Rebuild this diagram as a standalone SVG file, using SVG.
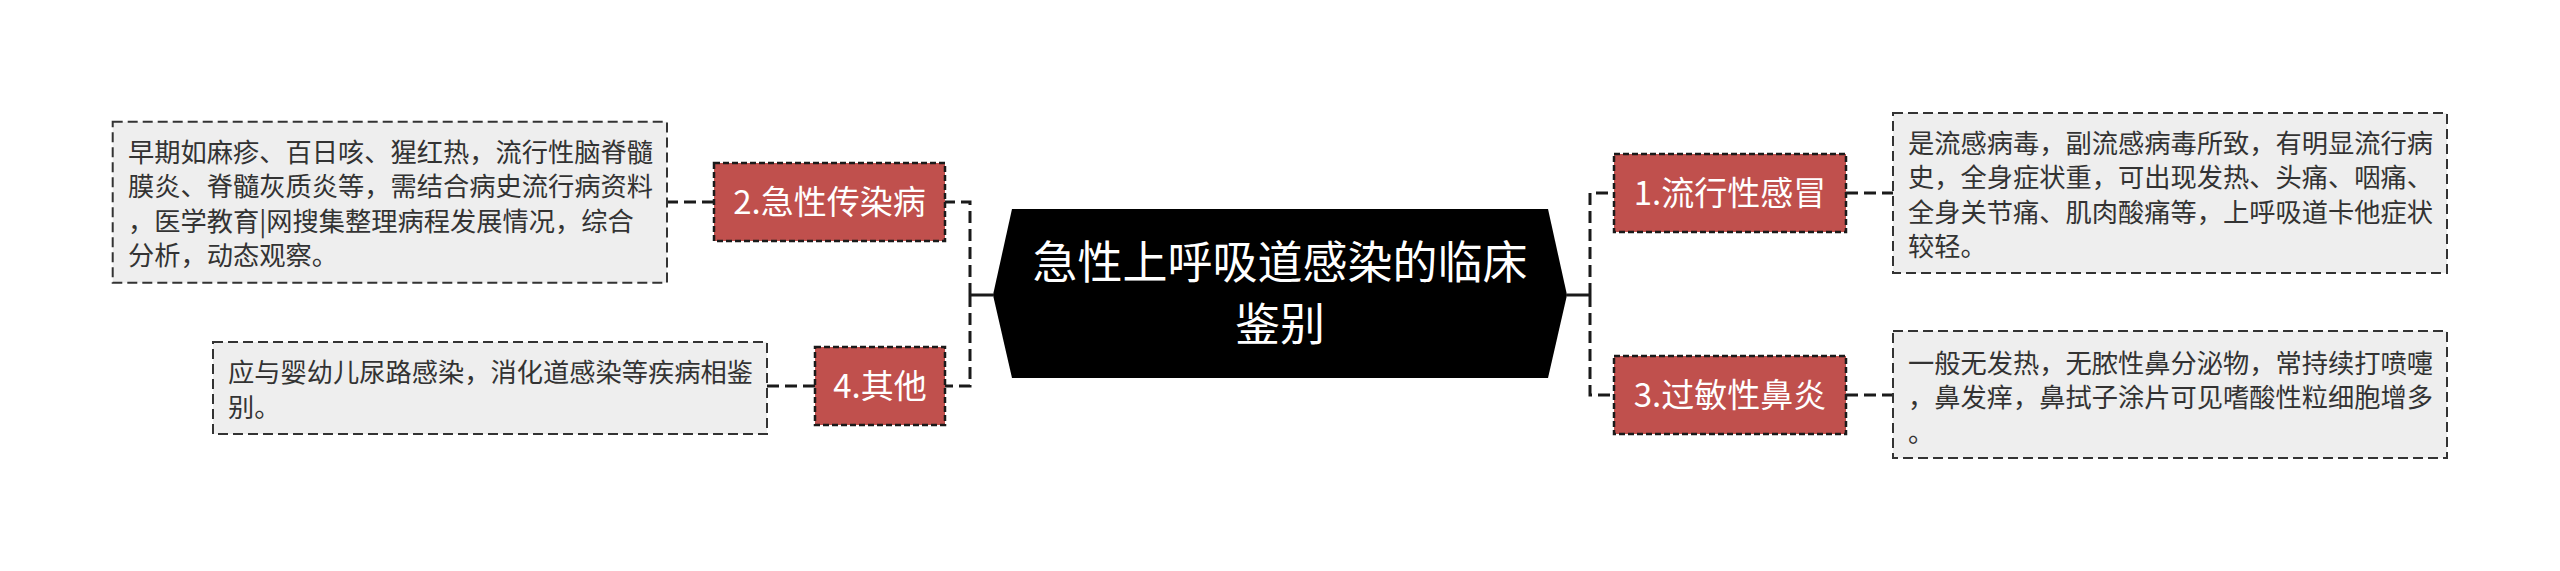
<svg xmlns="http://www.w3.org/2000/svg" width="2560" height="571" viewBox="0 0 2560 571">
<style>
.bg{fill:#ffffff}
.conn{fill:none;stroke:#1a1a1a;stroke-width:3;stroke-dasharray:12 6}
.stub{fill:none;stroke:#1a1a1a;stroke-width:3}
.center{fill:#000000}
.ctext{font-family:"Noto Sans CJK SC","Noto Sans",sans-serif;font-size:45px;fill:#ffffff;text-anchor:middle}
.node{fill:#c0504d;stroke:#1a1a1a;stroke-width:2.5;stroke-dasharray:6 3}
.ntext{font-family:"Noto Sans CJK SC","Noto Sans",sans-serif;font-size:33px;fill:#ffffff;text-anchor:middle}
.box{fill:#eeeeee;stroke:#333333;stroke-width:2;stroke-dasharray:10 5}
.btext{font-family:"Noto Sans CJK SC","Noto Sans",sans-serif;font-size:26.25px;fill:#333333}
</style>
<rect class="bg" x="0" y="0" width="2560" height="571"/>
<g id="connectors">
  <path class="stub" d="M993,295 H970"/>
  <path class="stub" d="M1567,295 H1590"/>
  <path class="conn" d="M970,295 V202 H945"/>
  <path class="conn" d="M970,295 V386 H945"/>
  <path class="conn" d="M1590,295 V193 H1614"/>
  <path class="conn" d="M1590,295 V395 H1614"/>
  <path class="conn" d="M714,202 H667"/>
  <path class="conn" d="M815,386 H767"/>
  <path class="conn" d="M1846,193 H1893"/>
  <path class="conn" d="M1846,395 H1893"/>
</g>
<g id="center-node">
  <polygon class="center" points="993,295 1012,209 1548,209 1567,295 1548,378 1012,378"/>
  <text class="ctext" x="1280" y="279">急性上呼吸道感染的临床</text>
  <text class="ctext" x="1280" y="341">鉴别</text>
</g>
<g id="node-1">
  <rect class="node" x="1614" y="154" width="232" height="78"/>
  <text class="ntext" x="1730" y="205">1.流行性感冒</text>
</g>
<g id="node-1-detail">
  <rect class="box" x="1893" y="113" width="554" height="160"/>
  <text class="btext" x="1908" y="152.5">是流感病毒，副流感病毒所致，有明显流行病</text>
  <text class="btext" x="1908" y="187">史，全身症状重，可出现发热、头痛、咽痛、</text>
  <text class="btext" x="1908" y="221.5">全身关节痛、肌肉酸痛等，上呼吸道卡他症状</text>
  <text class="btext" x="1908" y="256">较轻。</text>
</g>
<g id="node-2">
  <rect class="node" x="714" y="163" width="231" height="78"/>
  <text class="ntext" x="829.5" y="214">2.急性传染病</text>
</g>
<g id="node-2-detail">
  <rect class="box" x="112.7" y="121.7" width="554.3" height="161"/>
  <text class="btext" x="128" y="161.7">早期如麻疹、百日咳、猩红热，流行性脑脊髓</text>
  <text class="btext" x="128" y="196">膜炎、脊髓灰质炎等，需结合病史流行病资料</text>
  <text class="btext" x="128" y="230.5">，医学教育|网搜集整理病程发展情况，综合</text>
  <text class="btext" x="128" y="265">分析，动态观察。</text>
</g>
<g id="node-3">
  <rect class="node" x="1614" y="356" width="232" height="78"/>
  <text class="ntext" x="1730" y="407">3.过敏性鼻炎</text>
</g>
<g id="node-3-detail">
  <rect class="box" x="1893" y="331" width="554" height="127"/>
  <text class="btext" x="1908" y="372.5">一般无发热，无脓性鼻分泌物，常持续打喷嚏</text>
  <text class="btext" x="1908" y="407">，鼻发痒，鼻拭子涂片可见嗜酸性粒细胞增多</text>
  <text class="btext" x="1908" y="441.5">。</text>
</g>
<g id="node-4">
  <rect class="node" x="815" y="347" width="130" height="78"/>
  <text class="ntext" x="880" y="398">4.其他</text>
</g>
<g id="node-4-detail">
  <rect class="box" x="213" y="342" width="554" height="92"/>
  <text class="btext" x="228" y="382">应与婴幼儿尿路感染，消化道感染等疾病相鉴</text>
  <text class="btext" x="228" y="416.5">别。</text>
</g>
</svg>
